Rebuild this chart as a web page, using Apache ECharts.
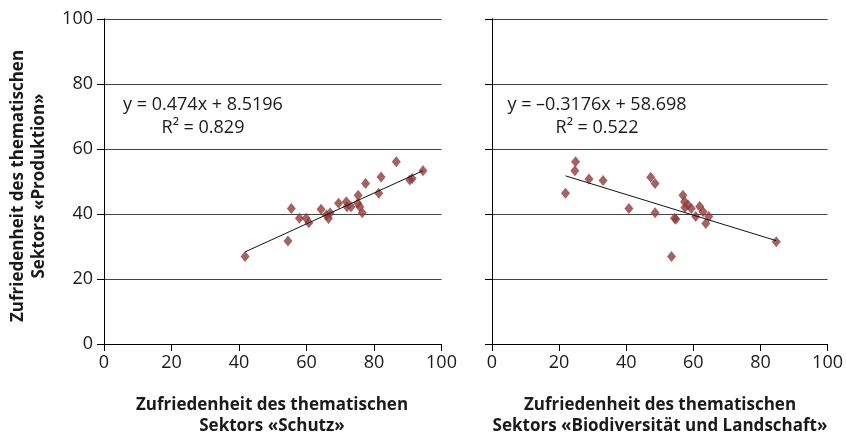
<!DOCTYPE html>
<html>
<head>
<meta charset="utf-8">
<script src="https://cdn.jsdelivr.net/npm/echarts@6/dist/echarts.min.js"></script>
<style>
html,body{margin:0;padding:0;background:#fff;}
#c{width:846px;height:434px;}
</style>
</head>
<body>
<div id="c"></div>
<script>
// Panel 1: Schutz (x) vs Produktion (y)
const schutzX = [41.8,54.5,55.5,57.9,59.9,60.7,64.3,65.9,66.5,67.0,69.5,71.8,72.0,73.2,75.3,75.2,75.8,76.5,77.5,81.4,82.1,86.6,90.6,91.3,94.5];
const schutzY = [26.9,31.7,41.7,38.7,38.7,37.3,41.5,39.7,38.6,40.3,43.3,43.8,42.2,42.2,45.8,43.3,42.2,40.4,49.4,46.4,51.4,56.1,50.5,50.9,53.3];
// Panel 2: Biodiversität und Landschaft (x) vs Produktion (y)
const bioX = [21.9,24.9,24.7,28.9,33.1,40.8,47.3,48.6,48.6,53.5,54.4,54.8,56.9,57.4,58.4,59.4,57.5,60.7,61.9,62.9,63.7,64.6,84.7];
const bioY = [46.4,56.1,53.3,50.8,50.3,41.7,51.3,49.4,40.4,26.9,38.7,38.4,45.8,43.8,42.8,41.7,42.0,39.2,42.3,40.7,37.1,39.2,31.5];
// Regression coefficients [slope, intercept]
const fitSchutz = [0.474, 8.5196];
const fitBio = [-0.3176, 58.698];
const eqSchutz = ['y = 0.474x + 8.5196', 'R² = 0.829'];
const eqBio = ['y = \u20130.3176x + 58.698', 'R² = 0.522'];
const axisTicks = [0, 20, 40, 60, 80, 100];
const yTitle = ['Zufriedenheit des thematischen', 'Sektors «Produktion»'];
const xTitle1 = ['Zufriedenheit des thematischen', 'Sektors «Schutz»'];
const xTitle2 = ['Zufriedenheit des thematischen', 'Sektors «Biodiversität und Landschaft»'];

const FONT = 'Open Sans';
const TXT = '#1a1a1a';
function pairs(xs, ys){ return xs.map((x,i)=>[x, ys[i]]); }
function fitLine(xs, f){
  const lo = Math.min(...xs), hi = Math.max(...xs);
  return [[lo, f[0]*lo + f[1]], [hi, f[0]*hi + f[1]]];
}

function xAx(gi){
  return {
    gridIndex: gi, type: 'value', min: axisTicks[0], max: axisTicks[axisTicks.length-1], interval: 20,
    axisLine: {show: true, onZero: false, lineStyle: {color: '#000', width: 1}},
    axisTick: {show: true, length: 7, lineStyle: {color: '#000'}},
    axisLabel: {color: TXT, fontFamily: FONT, fontSize: 18, margin: 10},
    splitLine: {show: false}
  };
}
function yAx(gi, labels){
  return {
    gridIndex: gi, type: 'value', min: 0, max: 100, interval: 20,
    axisLine: {show: true, onZero: false, lineStyle: {color: '#000', width: 1}},
    axisTick: {show: true, length: 7, lineStyle: {color: '#000'}},
    axisLabel: {show: labels, color: TXT, fontFamily: FONT, fontSize: 18, margin: 11},
    splitLine: {show: true, lineStyle: {color: '#444', width: 1}}
  };
}
function rightBorder(gi){
  return {
    gridIndex: gi, type: 'value', min: 0, max: 100, position: 'right',
    axisLine: {show: true, lineStyle: {color: '#000', width: 1}},
    axisTick: {show: false}, axisLabel: {show: false}, splitLine: {show: false}
  };
}

const chart = echarts.init(document.getElementById('c'));
const markerColor = '#8e3b3b';
chart.setOption({
  animation: false,
  backgroundColor: '#fff',
  grid: [
    {left: 104, right: 404.5, top: 19, bottom: 90},
    {left: 492, right: 17, top: 19, bottom: 90}
  ],
  xAxis: [xAx(0), xAx(1)],
  yAxis: [yAx(0, true), yAx(1, false), rightBorder(0), rightBorder(1)],
  series: [
    {type: 'scatter', xAxisIndex: 0, yAxisIndex: 0, data: pairs(schutzX, schutzY), symbol: 'diamond', symbolSize: [9, 11], itemStyle: {color: markerColor}, z: 3},
    {type: 'scatter', xAxisIndex: 1, yAxisIndex: 1, data: pairs(bioX, bioY), symbol: 'diamond', symbolSize: [9, 11], itemStyle: {color: markerColor}, z: 3},
    {type: 'line', xAxisIndex: 0, yAxisIndex: 0, data: fitLine(schutzX, fitSchutz), showSymbol: false, symbol: 'none', lineStyle: {color: '#111', width: 1}, z: 4},
    {type: 'line', xAxisIndex: 1, yAxisIndex: 1, data: fitLine(bioX, fitBio), showSymbol: false, symbol: 'none', lineStyle: {color: '#111', width: 1}, z: 4}
  ],
  graphic: [
    {type: 'text', x: 203, y: 105, style: {text: eqSchutz[0], fontFamily: FONT, fontSize: 18, fill: TXT, align: 'center', verticalAlign: 'middle'}},
    {type: 'text', x: 203, y: 128, style: {text: eqSchutz[1], fontFamily: FONT, fontSize: 18, fill: TXT, align: 'center', verticalAlign: 'middle'}},
    {type: 'text', x: 597, y: 105, style: {text: eqBio[0], fontFamily: FONT, fontSize: 18, fill: TXT, align: 'center', verticalAlign: 'middle'}},
    {type: 'text', x: 597, y: 128, style: {text: eqBio[1], fontFamily: FONT, fontSize: 18, fill: TXT, align: 'center', verticalAlign: 'middle'}},
    {type: 'text', x: 272, y: 416, style: {text: xTitle1.join('\n'), fontFamily: FONT, fontSize: 17, fontWeight: 'bold', lineHeight: 21, fill: TXT, align: 'center', verticalAlign: 'middle'}},
    {type: 'text', x: 660, y: 416, style: {text: xTitle2.join('\n'), fontFamily: FONT, fontSize: 17, fontWeight: 'bold', lineHeight: 21, fill: TXT, align: 'center', verticalAlign: 'middle'}},
    {type: 'text', x: 29, y: 186, rotation: Math.PI/2, style: {text: yTitle.join('\n'), fontFamily: FONT, fontSize: 17, fontWeight: 'bold', lineHeight: 21, fill: TXT, align: 'center', verticalAlign: 'middle'}}
  ]
});
</script>
</body>
</html>
